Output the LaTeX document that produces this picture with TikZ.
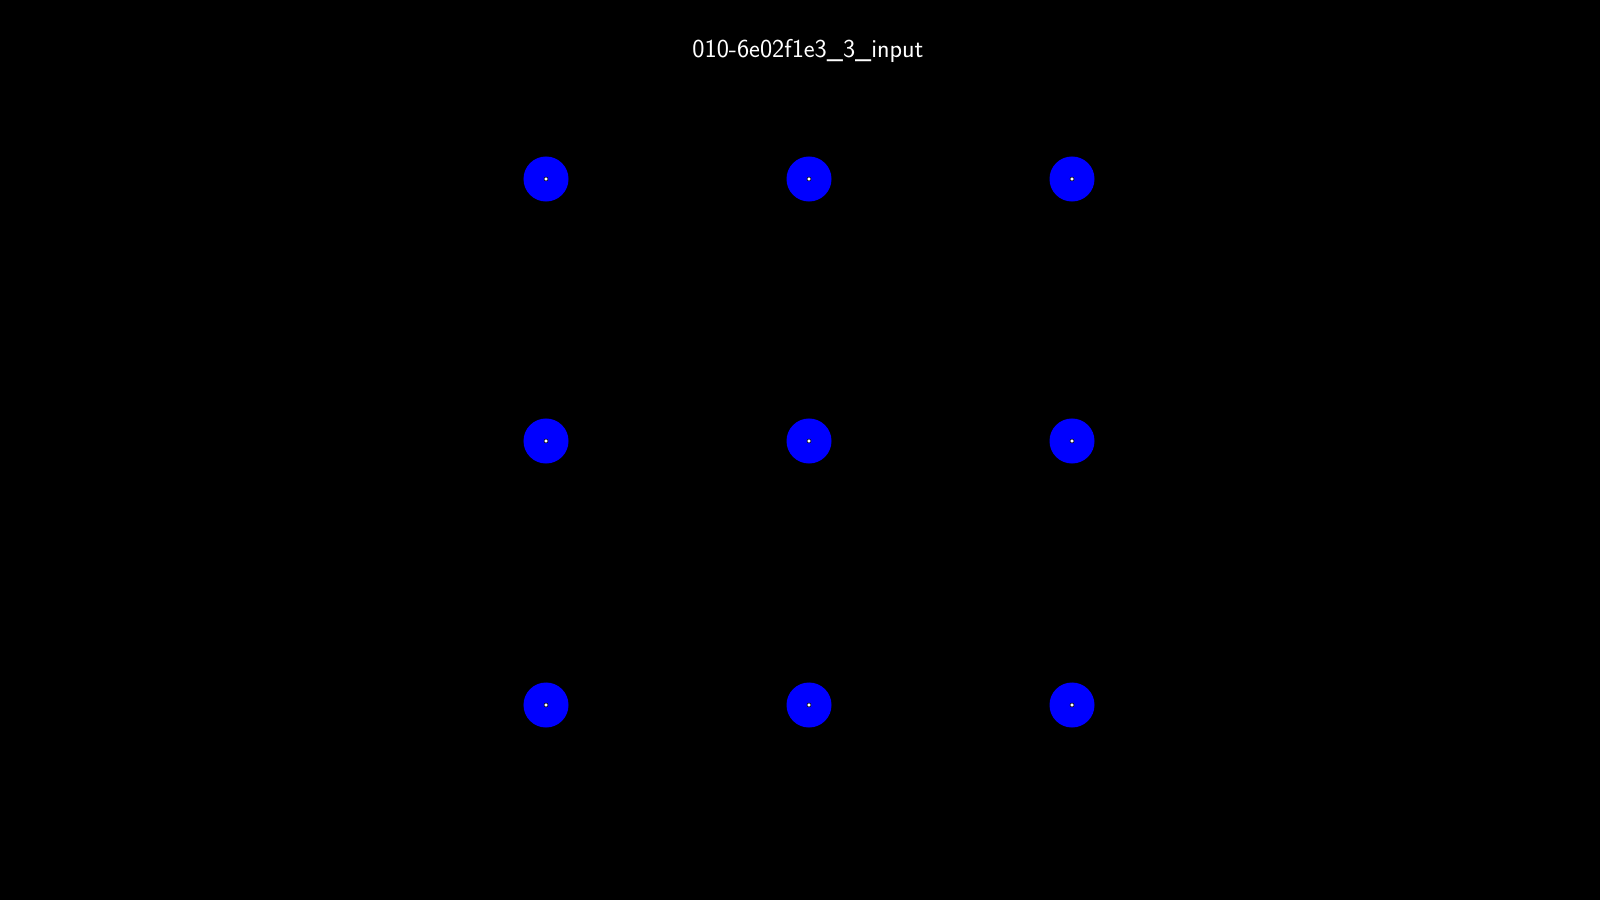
\documentclass[tikz,border=0pt]{standalone}
\usepackage{amsmath}
\usepackage{tikz}

\begin{document}
\begin{tikzpicture}
            [x=0.025cm,y=-0.025cm,thick,every node/.style={circle,fill=blue,inner sep=0pt,minimum size=1.125cm}]
            \fill[black] (0,0) rectangle (1600,900);
            \node[rectangle,fill=none,minimum size=0pt,text=white,anchor=base,font=\sffamily\fontsize{18.4}{22}\selectfont] (title) at (808,58) {010-6e02f1e3\_3\_input};
            \node (1) at (546,179) {};
            \node (2) at (809,179) {};
            \node (3) at (1072,179) {};
            \node (4) at (546,441) {};
            \node (5) at (809,441) {};
            \node (6) at (1072,441) {};
            \node (7) at (546,705) {};
            \node (8) at (809,705) {};
            \node (9) at (1072,705) {};
            \foreach \n in {1,...,9}
                \filldraw[fill=white, draw=black, line width=0.4pt] (\n.center) circle (2);
        \end{tikzpicture}
\end{document}
